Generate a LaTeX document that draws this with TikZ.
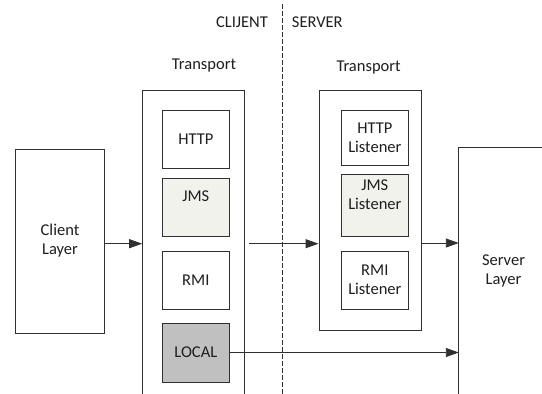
\documentclass[tikz,border=0pt]{standalone}
\usepackage{fontspec}
\setmainfont{Carlito}
\usetikzlibrary{arrows.meta}
\definecolor{linecol}{HTML}{303030}
\definecolor{txtcol}{HTML}{1E1E1E}
\definecolor{jmsfill}{HTML}{F2F2EC}
\definecolor{localfill}{HTML}{C0C0C0}
\begin{document}
\begin{tikzpicture}[x=1pt,y=-1pt,
  every node/.style={font=\fontsize{16.5}{19}\selectfont, text=txtcol},
  box/.style={draw=linecol, line width=0.9pt, inner sep=0pt, align=center},
  inbox/.style={box, minimum width=66.7pt},
  frame/.style={inner sep=0pt, minimum width=0pt, align=center},
  edge/.style={draw=linecol, line width=0.9pt},
  arr/.style={edge, -{Triangle[length=13pt,width=9pt]}},
  sep/.style={draw=linecol, line width=0.8pt, dash pattern=on 4.5pt off 2.5pt}]
\useasboundingbox (0,0) rectangle (542,394);

% side headings and the client/server divider
\node (hclient) at (242,22.7) {CLIJENT};
\node (hserver) at (317.3,22.7) {SERVER};
\coordinate (septop) at (282.7,4);
\coordinate (sepbot) at (282.7,394);
\draw[sep] (septop) -- (sepbot);

% client layer
\node[box, minimum width=89.5pt, minimum height=184pt] (client) at (60,241) {Client\\Layer};

% client transport (open at the bottom)
\node (tclient) at (204,65.7) {Transport};
\node[frame, minimum width=102.3pt, minimum height=303.3pt] (ctrans) at (193.55,242.35) {};
\draw[edge] (ctrans.south west) -- (ctrans.north west) -- (ctrans.north east) -- (ctrans.south east);

\node[inbox, minimum height=58pt] (http) at (195.85,139) {HTTP};
\node[inbox, minimum height=58pt, fill=jmsfill,
      label={[anchor=center, yshift=-18.7pt]north:JMS}] (jms) at (195.85,207) {};
\node[inbox, minimum height=58pt] (rmi) at (195.85,280) {RMI};
\node[inbox, minimum height=59pt, fill=localfill] (local) at (195.85,352.5) {LOCAL};

% server transport
\node (tserver) at (368.6,68) {Transport};
\node[box, minimum width=102.4pt, minimum height=239.3pt] (strans) at (370.2,210.35) {};
\node[inbox, minimum height=55pt] (httpl) at (374.85,137.5) {HTTP\\Listener};
\node[inbox, minimum height=62pt, fill=jmsfill,
      label={[anchor=center, align=center, yshift=-21pt]north:JMS\\Listener}] (jmsl) at (374.85,205) {};
\node[inbox, minimum height=58pt] (rmil) at (374.85,280) {RMI\\Listener};

% server layer (open to the right and bottom)
\node[frame, minimum width=89pt, minimum height=246.3pt] (slayer) at (503.5,270.85) {Server\\Layer};
\draw[edge] (slayer.south west) -- (slayer.north west) -- (slayer.north east);

% connectors
\coordinate (row) at (0,243.7);
\coordinate (wire) at (248.9,243.7);
\draw[arr] (client.east |- row) -- (ctrans.west |- row);
\draw[arr] (wire) -- (strans.west |- row);
\draw[arr] (strans.east |- 0,243) -- (slayer.west |- 0,243);
\draw[arr] (local.east) -- (slayer.west |- local.east);
\end{tikzpicture}
\end{document}
